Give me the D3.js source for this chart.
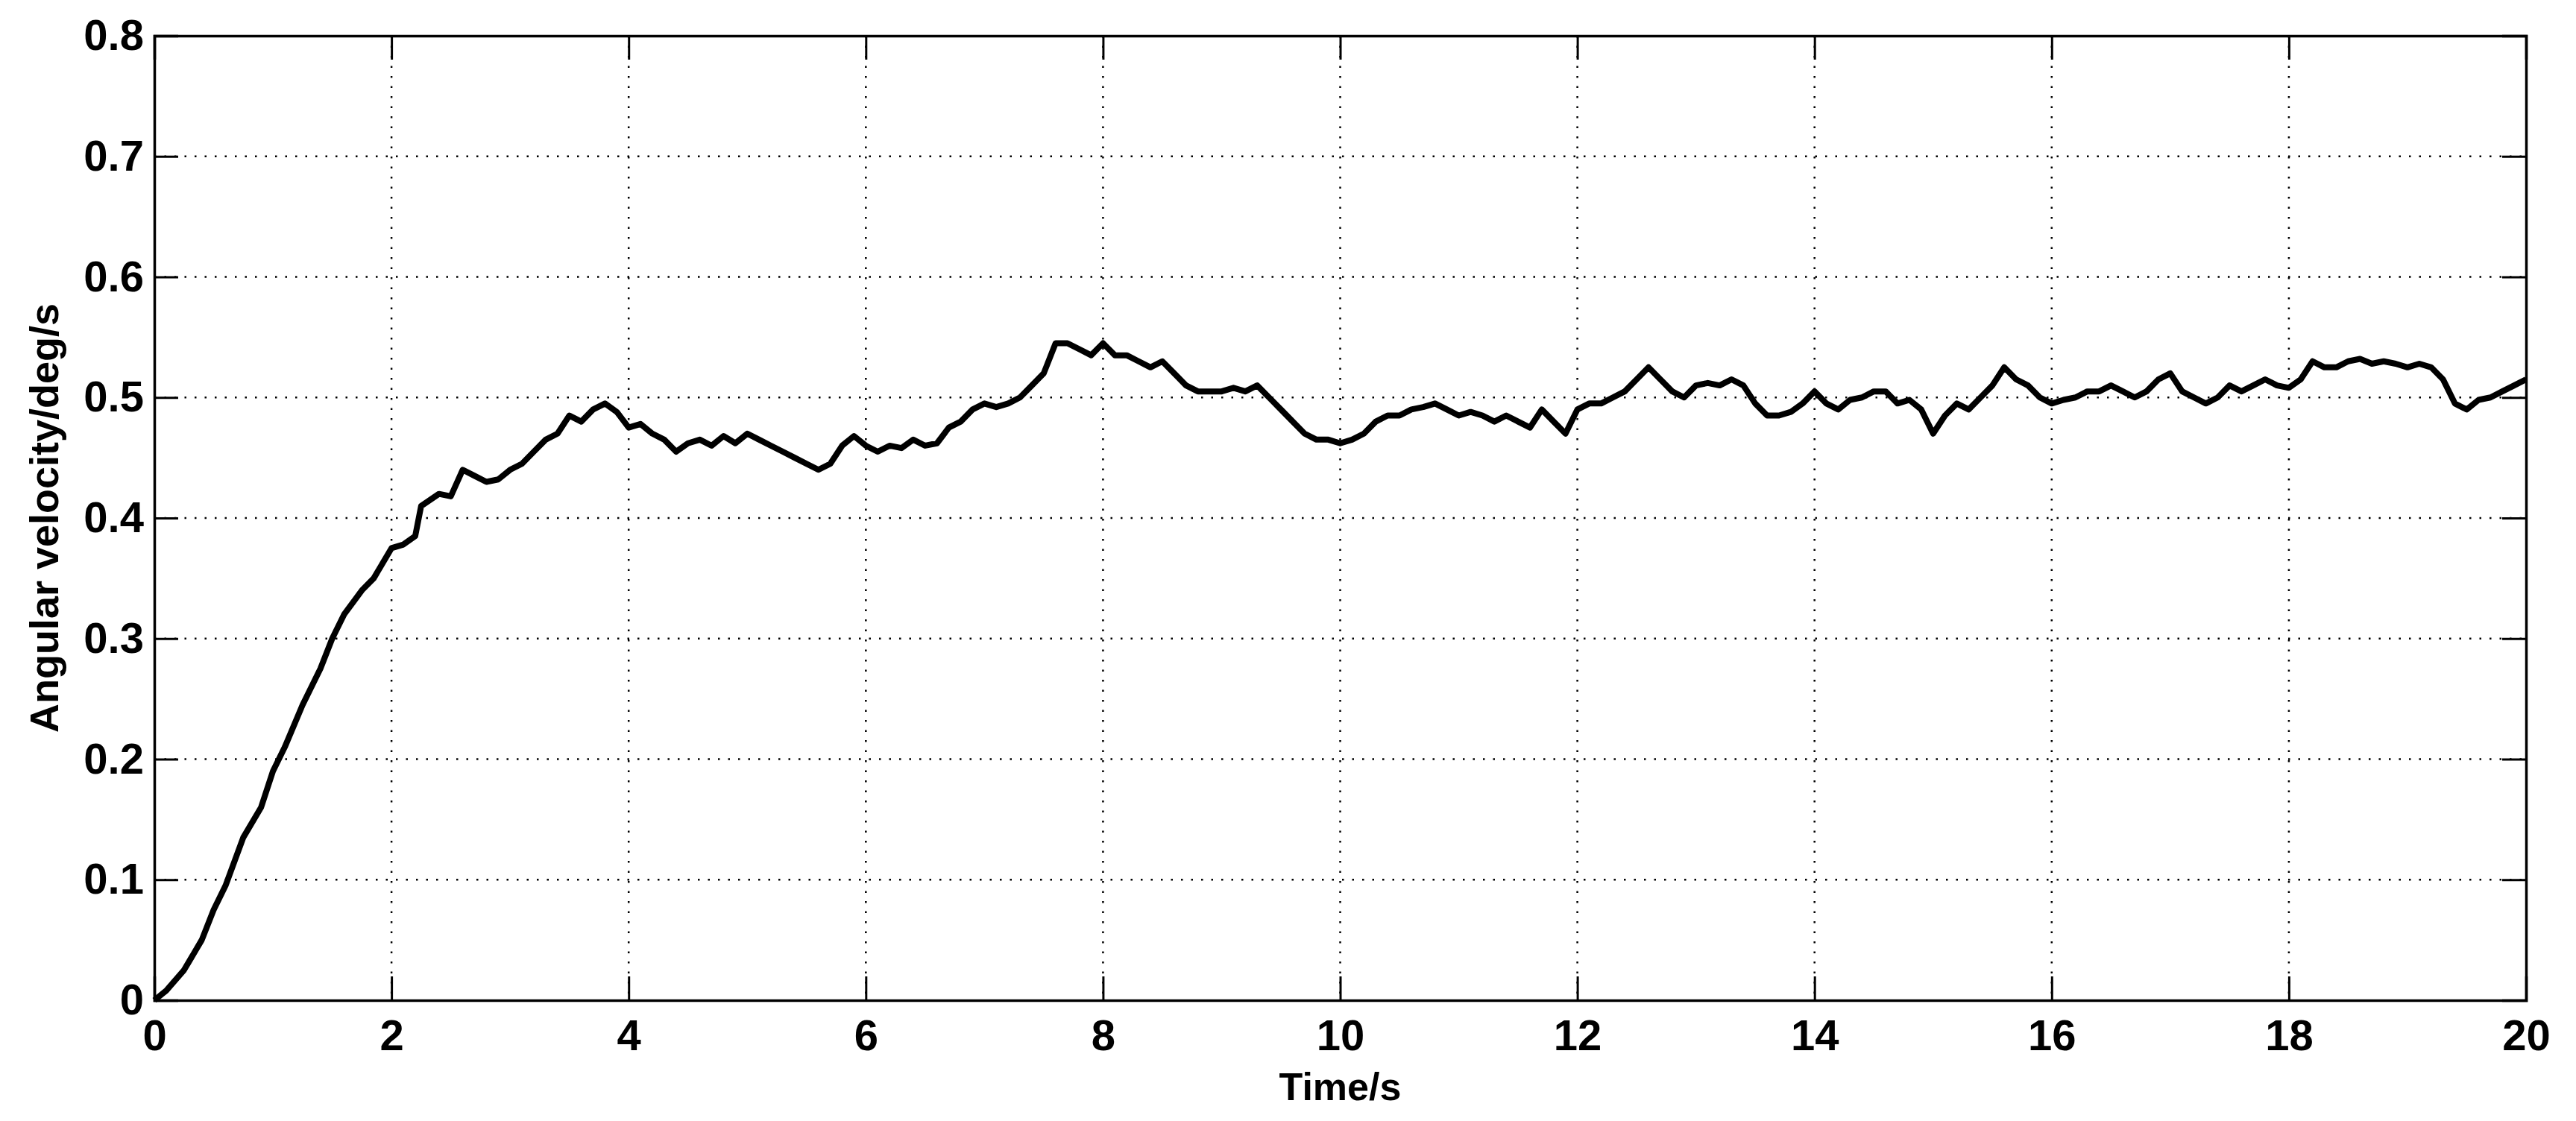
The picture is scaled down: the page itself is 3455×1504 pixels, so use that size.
<!DOCTYPE html>
<html><head><meta charset="utf-8">
<script src="https://cdn.jsdelivr.net/npm/d3@7"></script>
<style>body{margin:0;background:#fff}svg{display:block}</style>
</head><body>
<svg id="chart" width="3455" height="1504"></svg>
<script>
const times = [0,0.1,0.25,0.4,0.5,0.6,0.75,0.9,1.0,1.1,1.25,1.4,1.5,1.6,1.75,1.85,2.0,2.1,2.2,2.25,2.4,2.5,2.6,2.7,2.8,2.9,3.0,3.1,3.2,3.3,3.4,3.5,3.6,3.7,3.8,3.9,4.0,4.1,4.2,4.3,4.4,4.5,4.6,4.7,4.8,4.9,5.0,5.1,5.2,5.3,5.4,5.5,5.6,5.7,5.8,5.9,6.0,6.1,6.2,6.3,6.4,6.5,6.6,6.7,6.8,6.9,7.0,7.1,7.2,7.3,7.4,7.5,7.6,7.7,7.8,7.9,8.0,8.1,8.2,8.3,8.4,8.5,8.6,8.7,8.8,8.9,9.0,9.1,9.2,9.3,9.4,9.5,9.6,9.7,9.8,9.9,10.0,10.1,10.2,10.3,10.4,10.5,10.6,10.7,10.8,10.9,11.0,11.1,11.2,11.3,11.4,11.5,11.6,11.7,11.8,11.9,12.0,12.1,12.2,12.3,12.4,12.5,12.6,12.7,12.8,12.9,13.0,13.1,13.2,13.3,13.4,13.5,13.6,13.7,13.8,13.9,14.0,14.1,14.2,14.3,14.4,14.5,14.6,14.7,14.8,14.9,15.0,15.1,15.2,15.3,15.4,15.5,15.6,15.7,15.8,15.9,16.0,16.1,16.2,16.3,16.4,16.5,16.6,16.7,16.8,16.9,17.0,17.1,17.2,17.3,17.4,17.5,17.6,17.7,17.8,17.9,18.0,18.1,18.2,18.3,18.4,18.5,18.6,18.7,18.8,18.9,19.0,19.1,19.2,19.3,19.4,19.5,19.6,19.7,19.8,19.9,20.0];
const velocity = [0,0.008,0.025,0.05,0.075,0.095,0.135,0.16,0.19,0.21,0.245,0.275,0.3,0.32,0.34,0.35,0.375,0.378,0.385,0.41,0.42,0.418,0.44,0.435,0.43,0.432,0.44,0.445,0.455,0.465,0.47,0.485,0.48,0.49,0.495,0.488,0.475,0.478,0.47,0.465,0.455,0.462,0.465,0.46,0.468,0.462,0.47,0.465,0.46,0.455,0.45,0.445,0.44,0.445,0.46,0.468,0.46,0.455,0.46,0.458,0.465,0.46,0.462,0.475,0.48,0.49,0.495,0.492,0.495,0.5,0.51,0.52,0.545,0.545,0.54,0.535,0.545,0.535,0.535,0.53,0.525,0.53,0.52,0.51,0.505,0.505,0.505,0.508,0.505,0.51,0.5,0.49,0.48,0.47,0.465,0.465,0.462,0.465,0.47,0.48,0.485,0.485,0.49,0.492,0.495,0.49,0.485,0.488,0.485,0.48,0.485,0.48,0.475,0.49,0.48,0.47,0.49,0.495,0.495,0.5,0.505,0.515,0.525,0.515,0.505,0.5,0.51,0.512,0.51,0.515,0.51,0.495,0.485,0.485,0.488,0.495,0.505,0.495,0.49,0.498,0.5,0.505,0.505,0.495,0.498,0.49,0.47,0.485,0.495,0.49,0.5,0.51,0.525,0.515,0.51,0.5,0.495,0.498,0.5,0.505,0.505,0.51,0.505,0.5,0.505,0.515,0.52,0.505,0.5,0.495,0.5,0.51,0.505,0.51,0.515,0.51,0.508,0.515,0.53,0.525,0.525,0.53,0.532,0.528,0.53,0.528,0.525,0.528,0.525,0.515,0.495,0.49,0.498,0.5,0.505,0.51,0.515];
const xTicks = d3.range(0, 21, 2);
const yTicks = [0,0.1,0.2,0.3,0.4,0.5,0.6,0.7,0.8];

const svg = d3.select("#chart");
const L = 207, R = 3388, T = 48, B = 1342;
const x = d3.scaleLinear().domain([0, 20]).range([L, R]);
const y = d3.scaleLinear().domain([0, 0.8]).range([B, T]);
const font = "'Liberation Sans', Arial, sans-serif";

// grid
svg.append("g").selectAll("line").data(xTicks.slice(1, -1)).join("line")
  .attr("x1", d => x(d)).attr("x2", d => x(d)).attr("y1", T).attr("y2", B)
  .attr("stroke", "#000").attr("stroke-width", 2.5).attr("stroke-dasharray", "2.5,11");
svg.append("g").selectAll("line").data(yTicks.slice(1, -1)).join("line")
  .attr("y1", d => y(d)).attr("y2", d => y(d)).attr("x1", L).attr("x2", R)
  .attr("stroke", "#000").attr("stroke-width", 2.5).attr("stroke-dasharray", "2.5,11");

// axes
const xa = svg.append("g").attr("transform", `translate(0,${B})`)
  .call(d3.axisBottom(x).tickValues(xTicks).tickSize(-32).tickPadding(26).tickFormat(d3.format("d")));
const xt = svg.append("g").attr("transform", `translate(0,${T})`)
  .call(d3.axisTop(x).tickValues(xTicks).tickSize(-32).tickFormat(""));
const ya = svg.append("g").attr("transform", `translate(${L},0)`)
  .call(d3.axisLeft(y).tickValues(yTicks).tickSize(-32).tickPadding(14).tickFormat(d => d === 0 ? "0" : d3.format(".1f")(d)));
const yr = svg.append("g").attr("transform", `translate(${R},0)`)
  .call(d3.axisRight(y).tickValues(yTicks).tickSize(-32).tickFormat(""));
[xa, xt, ya, yr].forEach(g => {
  g.selectAll("path").attr("stroke", "#000").attr("stroke-width", 3.5);
  g.selectAll("line").attr("stroke", "#000").attr("stroke-width", 3);
  g.selectAll("text").attr("fill", "#000").attr("font-family", font)
    .attr("font-size", 58).attr("font-weight", "bold");
});

// line
svg.append("path").datum(times.map((t, i) => [t, velocity[i]]))
  .attr("fill", "none").attr("stroke", "#000").attr("stroke-width", 8)
  .attr("stroke-linejoin", "round")
  .attr("d", d3.line().x(d => x(d[0])).y(d => y(d[1])));

svg.append("text").attr("x", (L + R) / 2).attr("y", 1476).attr("text-anchor", "middle")
  .attr("font-family", font).attr("font-size", 52).attr("font-weight", "bold").text("Time/s");
svg.append("text").attr("transform", `translate(78,${(T + B) / 2}) rotate(-90)`)
  .attr("text-anchor", "middle").attr("font-family", font).attr("font-size", 54)
  .attr("font-weight", "bold").text("Angular velocity/deg/s");
</script>
</body></html>
